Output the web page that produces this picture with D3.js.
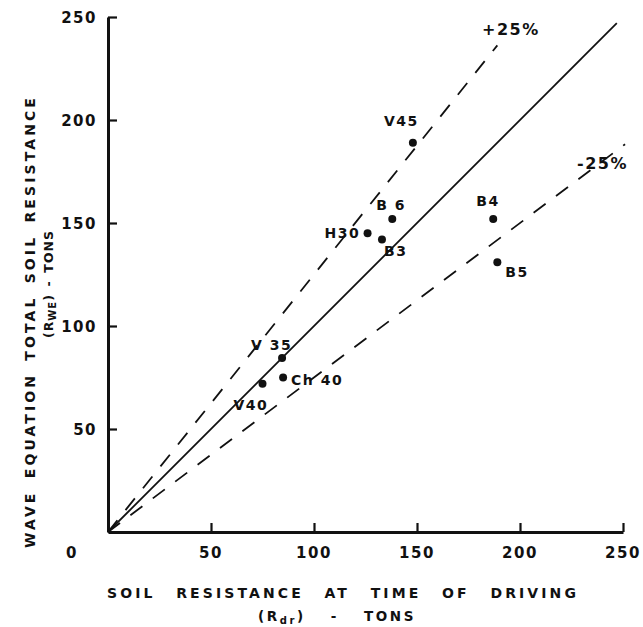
<!DOCTYPE html>
<html><head><meta charset="utf-8">
<script src="https://cdn.jsdelivr.net/npm/d3@7"></script>
<style>
body{margin:0;background:#fff;}
text{font-family:"DejaVu Sans","Liberation Sans",Arial,sans-serif;font-weight:bold;fill:#111;}
</style></head><body>
<svg id="c" width="643" height="627"></svg>
<script>
const names = ["V45","B 6","H30","B3","B4","B5","V 35","V40","Ch 40"];
const rdr   = [148,138,126,133,187,189,84.5,75,85];
const rwe   = [189,152,145,142,152,131,84.5,72,75];
// label offsets relative to point (dx, dy) in px
const labelDx = [-29,-16,-43,2,-17,8,-31,-29,8];
const labelDy = [-17,-9,5,17,-13,15,-8,26,7];
const ticks = [50,100,150,200,250];
const lineRatios = [1.0, 1.25, 0.75];
const lineEnds   = [247, 189, 251];
const lineLabels = ["", "+25%", "-25%"];

const svg = d3.select("#c");
const x = d3.scaleLinear().domain([0,250]).range([108,623]);
const y = d3.scaleLinear().domain([0,250]).range([532,17]);

// axes
const ax = svg.append("g").attr("transform","translate(0,532)")
  .call(d3.axisBottom(x).tickValues(ticks).tickSizeInner(-9).tickSizeOuter(0).tickFormat(""));
const ay = svg.append("g").attr("transform","translate(108,0)")
  .call(d3.axisLeft(y).tickValues(ticks).tickSizeInner(-9).tickSizeOuter(0).tickFormat(""));
[ax,ay].forEach(g=>{
  g.select(".domain").attr("stroke","#111").attr("stroke-width",3);
  g.selectAll(".tick line").attr("stroke","#111").attr("stroke-width",2.2);
});

// tick labels
svg.selectAll(".xt").data([0].concat(ticks)).enter().append("text")
  .attr("x",d=>d===0?72:x(d)).attr("y",558).attr("text-anchor","middle")
  .attr("font-size",15).attr("letter-spacing",1.5).text(d=>d);
svg.selectAll(".yt").data(ticks).enter().append("text")
  .attr("x",97).attr("y",d=>y(d)+6).attr("text-anchor","end")
  .attr("font-size",15).attr("letter-spacing",1.5).text(d=>d);

// lines
lineRatios.forEach((r,i)=>{
  svg.append("line")
    .attr("x1",x(0)).attr("y1",y(0))
    .attr("x2",x(lineEnds[i])).attr("y2",y(lineEnds[i]*r))
    .attr("stroke","#111").attr("stroke-width",1.8)
    .attr("stroke-dasharray",i===0?null:"15,13");
});
svg.append("text").attr("x",482).attr("y",35).attr("font-size",16).attr("letter-spacing",1.5).text(lineLabels[1]);
svg.append("text").attr("x",577).attr("y",169).attr("font-size",16).attr("letter-spacing",1.5).text(lineLabels[2]);

// points
svg.selectAll(".pt").data(names).enter().append("circle")
  .attr("cx",(d,i)=>x(rdr[i])).attr("cy",(d,i)=>y(rwe[i])).attr("r",4).attr("fill","#111");
svg.selectAll(".pl").data(names).enter().append("text")
  .attr("x",(d,i)=>x(rdr[i])+labelDx[i]).attr("y",(d,i)=>y(rwe[i])+labelDy[i])
  .attr("font-size",14).attr("letter-spacing",1.5).text(d=>d);

// fit word spacing so a title spans a target width
function fit(t, target){
  const n = (t.text().match(/ /g)||[]).length;
  t.attr("word-spacing",0);
  const w = t.node().getComputedTextLength();
  t.attr("word-spacing", n ? (target - w)/n : 0);
}

// axis titles
const xt1 = svg.append("text").attr("x",107).attr("y",598).attr("font-size",14)
  .attr("letter-spacing",3.1).text("SOIL RESISTANCE AT TIME OF DRIVING");
fit(xt1, 472);
const xt2 = svg.append("text").attr("x",258).attr("y",621).attr("font-size",13.5).attr("letter-spacing",2.6);
xt2.append("tspan").text("(R");
xt2.append("tspan").attr("font-size",10).attr("dy",3).text("dr");
xt2.append("tspan").attr("dy",-3).text(") - TONS");
fit(xt2, 158);

const yt1 = svg.append("text").attr("transform","translate(35,548) rotate(-90)").attr("font-size",14)
  .attr("letter-spacing",3.1).text("WAVE EQUATION TOTAL SOIL RESISTANCE");
fit(yt1, 453);
const yt2 = svg.append("text").attr("transform","translate(53,338) rotate(-90)").attr("font-size",12.5).attr("letter-spacing",1);
yt2.append("tspan").text("(R");
yt2.append("tspan").attr("font-size",10).attr("dy",3).text("WE");
yt2.append("tspan").attr("dy",-3).text(") - TONS");
fit(yt2, 108);
</script>
</body></html>
